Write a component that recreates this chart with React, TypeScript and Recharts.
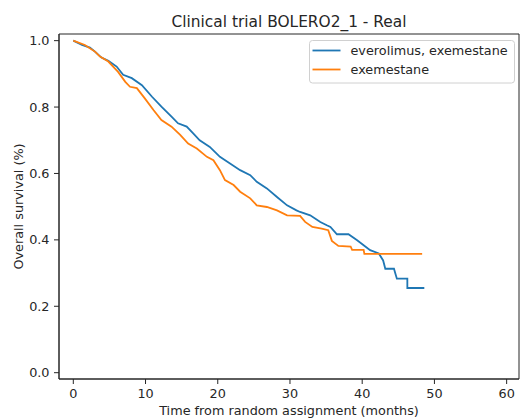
import React from "react";
import {
  LineChart,
  Line,
  XAxis,
  YAxis,
  Legend,
  ReferenceArea,
} from "recharts";

// Kaplan-Meier estimates (months, survival)
const everolimusT = [
  0, 1.2, 2.3, 3.0, 3.9, 4.85, 6.0, 6.9, 8.1, 9.5, 10.9, 12.2, 13.6, 14.5,
  15.7, 16.6, 17.5, 18.9, 20.3, 21.7, 23.1, 24.5, 25.4, 26.8, 28.2, 29.6,
  30.9, 31.4, 32.8, 34.2, 35.1, 35.6, 36.5, 38.1, 39.3, 40.2, 41.1, 42.3,
  42.9, 43.2, 44.4, 44.6, 44.8, 46.25, 46.25, 48.6,
];
const everolimusS = [
  1.0, 0.987, 0.979, 0.967, 0.949, 0.939, 0.922, 0.897, 0.887, 0.866, 0.831,
  0.801, 0.771, 0.751, 0.741, 0.721, 0.7, 0.68, 0.65, 0.63, 0.61, 0.595,
  0.575, 0.555, 0.529, 0.504, 0.489, 0.484, 0.474, 0.454, 0.444, 0.439,
  0.417, 0.417, 0.399, 0.384, 0.369, 0.359, 0.338, 0.313, 0.313, 0.298,
  0.283, 0.283, 0.255, 0.255,
];

const exemestaneT = [
  0, 1.6, 3.0, 3.7, 4.85, 6.2, 7.2, 7.85, 8.8, 9.9, 11.1, 12.2, 13.6, 14.8,
  15.9, 17.1, 18.5, 19.4, 20.3, 21.0, 22.2, 23.1, 24.5, 25.4, 26.8, 28.2,
  29.6, 31.4, 32.1, 33.1, 34.4, 35.3, 35.8, 36.7, 38.4, 38.6, 40.2, 40.3,
  48.3,
];
const exemestaneS = [
  1.0, 0.987, 0.967, 0.952, 0.937, 0.906, 0.876, 0.861, 0.857, 0.826, 0.791,
  0.761, 0.741, 0.716, 0.69, 0.675, 0.65, 0.64, 0.61, 0.58, 0.565, 0.545,
  0.525, 0.504, 0.499, 0.489, 0.474, 0.472, 0.454, 0.439, 0.434, 0.429,
  0.397, 0.382, 0.38, 0.37, 0.37, 0.358, 0.358,
];

const xTicks = [0, 10, 20, 30, 40, 50, 60];
const yTicks = [0, 0.2, 0.4, 0.6, 0.8, 1.0];

const seriesNames = ["everolimus, exemestane", "exemestane"];
const seriesColors = ["#1f77b4", "#ff7f0e"];

const X_DOMAIN: [number, number] = [-1.98, 61.71];
const Y_DOMAIN: [number, number] = [-0.019, 1.02];

const FONT = "DejaVu Sans";
const INK = "#262626";

const toRows = (t: number[], s: number[]) => t.map((v, i) => ({ t: v, s: s[i] }));

const everolimus = toRows(everolimusT, everolimusS);
const exemestane = toRows(exemestaneT, exemestaneS);

function LegendBox() {
  return (
    <svg width={206} height={44} style={{ display: "block" }}>
      <rect
        x={0.5}
        y={0.5}
        width={205}
        height={42.5}
        rx={3}
        fill="#fff"
        fillOpacity={0.8}
        stroke="#d0d0d0"
      />
      {seriesNames.map((name, i) => (
        <g key={name}>
          <line
            x1={3.5}
            x2={31.5}
            y1={10.5 + i * 19}
            y2={10.5 + i * 19}
            stroke={seriesColors[i]}
            strokeWidth={1.8}
          />
          <text
            x={41.5}
            y={15 + i * 19}
            fontFamily={FONT}
            fontSize={12.8}
            fill={INK}
          >
            {name}
          </text>
        </g>
      ))}
    </svg>
  );
}

export default function App() {
  const tickStyle = { fill: INK, fontSize: 12.8, fontFamily: FONT };
  return (
    <div
      style={{
        position: "absolute",
        left: 0,
        top: 0,
        width: 520,
        height: 419,
        background: "#fff",
      }}
    >
      <svg
        width={520}
        height={34}
        style={{ position: "absolute", left: 0, top: 0 }}
      >
        <text
          x={289}
          y={26.5}
          textAnchor="middle"
          fontFamily={FONT}
          fontSize={15.4}
          fill={INK}
        >
          Clinical trial BOLERO2_1 - Real
        </text>
      </svg>
      <LineChart
        width={520}
        height={419}
        margin={{ top: 34, right: 1, bottom: 0, left: 0 }}
      >
        <XAxis
          type="number"
          dataKey="t"
          domain={X_DOMAIN}
          ticks={xTicks}
          allowDataOverflow
          height={40}
          tickSize={5}
          tickMargin={5}
          stroke={INK}
          tick={tickStyle}
          label={(props: any) => {
            const vb = props.viewBox;
            return (
              <text
                x={vb.x + vb.width / 2}
                y={414.5}
                textAnchor="middle"
                fontFamily={FONT}
                fontSize={12.8}
                fill={INK}
              >
                Time from random assignment (months)
              </text>
            );
          }}
        />
        <YAxis
          type="number"
          domain={Y_DOMAIN}
          ticks={yTicks}
          allowDataOverflow
          width={59}
          tickSize={5}
          tickMargin={4.5}
          stroke={INK}
          tick={tickStyle}
          tickFormatter={(v: number) => v.toFixed(1)}
          label={(props: any) => {
            const vb = props.viewBox;
            const cy = vb.y + vb.height / 2;
            return (
              <text
                x={18}
                y={cy}
                transform={`rotate(-90, 18, ${cy})`}
                textAnchor="middle"
                dominantBaseline="central"
                fontFamily={FONT}
                fontSize={12.8}
                fill={INK}
              >
                Overall survival (%)
              </text>
            );
          }}
        />
        <ReferenceArea
          x1={X_DOMAIN[0]}
          x2={X_DOMAIN[1]}
          y1={Y_DOMAIN[0]}
          y2={Y_DOMAIN[1]}
          fill="none"
          stroke={INK}
          strokeWidth={1}
          ifOverflow="visible"
        />
        <Line
          data={everolimus}
          dataKey="s"
          name={seriesNames[0]}
          type="linear"
          stroke={seriesColors[0]}
          strokeWidth={1.8}
          dot={false}
          isAnimationActive={false}
        />
        <Line
          data={exemestane}
          dataKey="s"
          name={seriesNames[1]}
          type="linear"
          stroke={seriesColors[1]}
          strokeWidth={1.8}
          dot={false}
          isAnimationActive={false}
        />
        <Legend
          layout="horizontal"
          verticalAlign="middle"
          align="center"
          content={() => <LegendBox />}
          wrapperStyle={{ top: 40, left: 309, width: 206, height: 44 }}
        />
      </LineChart>
    </div>
  );
}
